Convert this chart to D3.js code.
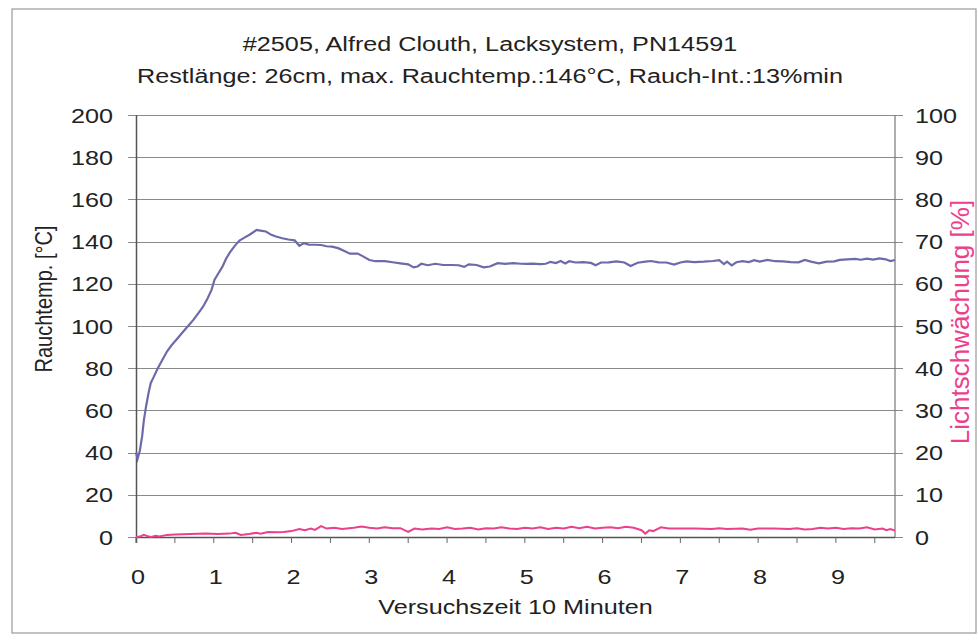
<!DOCTYPE html>
<html>
<head>
<meta charset="utf-8">
<script src="https://cdn.jsdelivr.net/npm/d3@7"></script>
<style>
  body { margin: 0; background: #fff; }
  text { font-family: "Liberation Sans", Arial, sans-serif; fill: #222; }
</style>
</head>
<body>
<svg id="chart" width="978" height="643"></svg>
<script>
// titles
var titleLines = ["#2505, Alfred Clouth, Lacksystem, PN14591",
                  "Restlänge: 26cm, max. Rauchtemp.:146°C, Rauch-Int.:13%min"];

// Rauchtemperatur [°C] over Versuchszeit [min]
var tempTime = [0.00,0.02,0.05,0.08,0.10,0.13,0.16,0.19,0.23,0.28,0.34,0.40,0.46,0.53,0.60,0.67,0.74,0.80,0.86,0.92,
  0.97,1.01,1.06,1.11,1.16,1.21,1.27,1.33,1.40,1.47,1.55,1.60,1.67,1.74,1.80,1.88,1.96,2.04,2.10,2.16,
  2.22,2.30,2.38,2.45,2.52,2.60,2.68,2.75,2.85,2.92,3.00,3.08,3.20,3.30,3.40,3.50,3.57,3.62,3.67,3.75,
  3.85,3.95,4.05,4.15,4.22,4.28,4.38,4.47,4.55,4.65,4.75,4.85,4.95,5.02,5.10,5.20,5.27,5.33,5.40,5.46,
  5.52,5.57,5.65,5.75,5.85,5.91,5.98,6.08,6.18,6.28,6.36,6.45,6.55,6.62,6.72,6.82,6.92,7.00,7.08,7.18,
  7.30,7.42,7.50,7.56,7.60,7.66,7.72,7.80,7.88,7.95,8.02,8.12,8.22,8.32,8.42,8.52,8.60,8.68,8.78,8.88,
  8.98,9.05,9.15,9.25,9.32,9.40,9.48,9.56,9.64,9.70,9.76];
var tempValue = [40,37,41,48,55,62,68,73,76,80,84,88,91,94,97,100,103,106,109,113,
  117,122,125,128,132,135,138,140.5,142,143.5,145.5,145.2,144.8,143.2,142.4,141.6,141,140.6,138,139.3,
  138.6,138.5,138.4,137.8,137.6,136.9,135.5,134.3,134.3,133,131.3,130.7,130.7,130.2,129.7,129.2,127.8,128.2,129.5,128.8,
  129.5,128.9,128.9,128.8,128,129.2,128.9,127.8,128.2,129.8,129.4,129.8,129.5,129.4,129.6,129.3,129.5,130.4,129.8,130.8,
  129.6,130.7,130.1,130.3,129.9,128.8,130.1,130.2,130.6,130.1,128.4,130,130.5,130.8,130.2,130.1,129.1,130.1,130.6,130.3,
  130.5,130.8,131.2,129.3,130.5,128.7,130.2,130.7,130.3,131.2,130.5,131.3,130.7,130.6,130.3,130.2,131.3,130.5,129.7,130.5,
  130.6,131.3,131.6,131.8,131.4,131.9,131.5,132,131.6,130.8,131.3];

// Lichtschwächung [%] over Versuchszeit [min]
var smokeTime = [0.00,0.05,0.10,0.15,0.20,0.25,0.30,0.40,0.50,0.70,0.90,1.05,1.20,1.28,1.35,1.45,1.55,1.60,1.70,1.80,
  1.90,2.00,2.10,2.17,2.25,2.30,2.38,2.45,2.55,2.65,2.80,2.90,3.00,3.10,3.20,3.30,3.40,3.50,3.58,3.68,
  3.80,3.90,4.00,4.10,4.20,4.30,4.40,4.50,4.60,4.70,4.80,4.90,5.00,5.10,5.20,5.30,5.40,5.50,5.60,5.70,
  5.80,5.90,6.00,6.10,6.20,6.30,6.40,6.50,6.55,6.60,6.65,6.75,6.85,7.00,7.20,7.40,7.50,7.60,7.80,7.90,
  8.00,8.20,8.40,8.50,8.60,8.70,8.80,8.90,9.00,9.10,9.20,9.30,9.40,9.50,9.60,9.65,9.70,9.76];
var smokeValue = [0,0.1,0.5,0.2,0,0.3,0.1,0.5,0.6,0.7,0.8,0.7,0.8,1.0,0.5,0.7,1.0,0.8,1.2,1.1,
  1.2,1.4,1.9,1.6,2.0,1.7,2.6,2.0,2.2,1.9,2.2,2.5,2.2,2.0,2.3,2.1,2.1,1.2,2.0,1.8,
  2.0,1.9,2.3,1.9,2.0,2.2,1.8,2.1,2.0,2.3,2.0,1.9,2.2,2.0,2.3,1.9,2.2,2.0,2.4,2.1,
  2.4,2.0,2.2,2.3,2.1,2.4,2.2,1.6,0.8,1.6,1.4,2.3,2.0,2.0,2.0,1.9,2.1,1.9,2.0,1.7,
  2.0,2.0,1.9,2.1,1.8,1.9,2.2,2.0,2.2,1.9,2.1,2.0,2.3,1.8,2.0,1.6,1.9,1.5];

// axis ticks
var xLabels = [0,1,2,3,4,5,6,7,8,9];
var xMinorTicks = d3.range(0, 9.6, 0.5);
var leftTicks = [0,20,40,60,80,100,120,140,160,180,200];
var rightTicks = [0,10,20,30,40,50,60,70,80,90,100];

var svg = d3.select("#chart"),
    margin = {top: 115, right: 83, bottom: 106, left: 136},
    width = +svg.attr("width") - margin.left - margin.right,
    height = +svg.attr("height") - margin.top - margin.bottom;

var stretch = 1.2;   // the scan is wider than tall
var blue = "#6c6aa8", pink = "#ec3f8c";

// rahmen
svg.append("rect")
  .attr("x", 12).attr("y", 9).attr("width", 964).attr("height", 624)
  .attr("fill", "none").attr("stroke", "#9a9a9a").attr("stroke-width", 1.2);

var x = d3.scaleLinear().domain([0, 9.76]).range([0, width]);
var yL = d3.scaleLinear().domain([0, 200]).range([height, 0]);
var yR = d3.scaleLinear().domain([0, 100]).range([height, 0]);

var g = svg.append("g")
  .attr("transform", "translate(" + margin.left + "," + margin.top + ")");

function stext(sel, tx, ty, anchor, size) {
  return sel.append("text")
    .attr("transform", "translate(" + tx + "," + ty + ") scale(" + stretch + ",1)")
    .attr("text-anchor", anchor)
    .style("font-size", size + "px");
}

// gridlines + left ticks
g.selectAll(".grid")
  .data(leftTicks)
  .enter().append("line")
    .attr("class", "grid")
    .attr("x1", -8).attr("x2", width + 8)
    .attr("y1", function(d) { return Math.round(yL(d)) + 0.5; })
    .attr("y2", function(d) { return Math.round(yL(d)) + 0.5; })
    .attr("stroke", "#8a8a8a").attr("stroke-width", 1);

leftTicks.forEach(function(d) {
  stext(g, -23, yL(d) + 7.5, "end", 21).text(d);
});
rightTicks.forEach(function(d) {
  stext(g, width + 20, yR(d) + 7.5, "start", 21).text(d);
});

// axes lines
g.append("line").attr("x1", 0.5).attr("x2", 0.5).attr("y1", 0).attr("y2", height + 6)
  .attr("stroke", "#555").attr("stroke-width", 1.5);
g.append("line").attr("x1", width).attr("x2", width).attr("y1", 0).attr("y2", height)
  .attr("stroke", "#777").attr("stroke-width", 1.2);
g.append("line").attr("x1", 0).attr("x2", width).attr("y1", height + 0.5).attr("y2", height + 0.5)
  .attr("stroke", "#555").attr("stroke-width", 1.5);

// x ticks (halbe minuten)
g.selectAll(".xtick")
  .data(xMinorTicks)
  .enter().append("line")
    .attr("class", "xtick")
    .attr("x1", function(d) { return x(d); })
    .attr("x2", function(d) { return x(d); })
    .attr("y1", height).attr("y2", height + 6)
    .attr("stroke", "#666").attr("stroke-width", 1);

xLabels.forEach(function(d) {
  stext(g, x(d) + 2, height + 47, "middle", 21).text(d);
});

// lines
var tempData = tempTime.map(function(t, i) { return {t: t, v: tempValue[i]}; });
var smokeData = smokeTime.map(function(t, i) { return {t: t, v: smokeValue[i]}; });

g.append("path")
  .datum(smokeData)
  .attr("fill", "none").attr("stroke", pink).attr("stroke-width", 2)
  .attr("d", d3.line().x(function(d) { return x(d.t); }).y(function(d) { return yR(d.v); }));

g.append("path")
  .datum(tempData)
  .attr("fill", "none").attr("stroke", blue).attr("stroke-width", 2.2)
  .attr("d", d3.line().x(function(d) { return x(d.t); }).y(function(d) { return yL(d.v); }));

// titel
stext(svg, 490, 51, "middle", 21).text(titleLines[0]);
stext(svg, 490, 83, "middle", 21).text(titleLines[1]);

// achsentitel
stext(svg, margin.left + width / 2, 614, "middle", 21).text("Versuchszeit 10 Minuten");

svg.append("text")
  .attr("transform", "translate(52,299) scale(" + stretch + ",1) rotate(-90)")
  .attr("text-anchor", "middle")
  .style("font-size", "20px")
  .text("Rauchtemp. [°C]");

svg.append("text")
  .attr("transform", "translate(969,322) rotate(-90)")
  .attr("text-anchor", "middle")
  .style("font-size", "26px")
  .style("fill", pink)
  .text("Lichtschwächung [%]");
</script>
</body>
</html>
